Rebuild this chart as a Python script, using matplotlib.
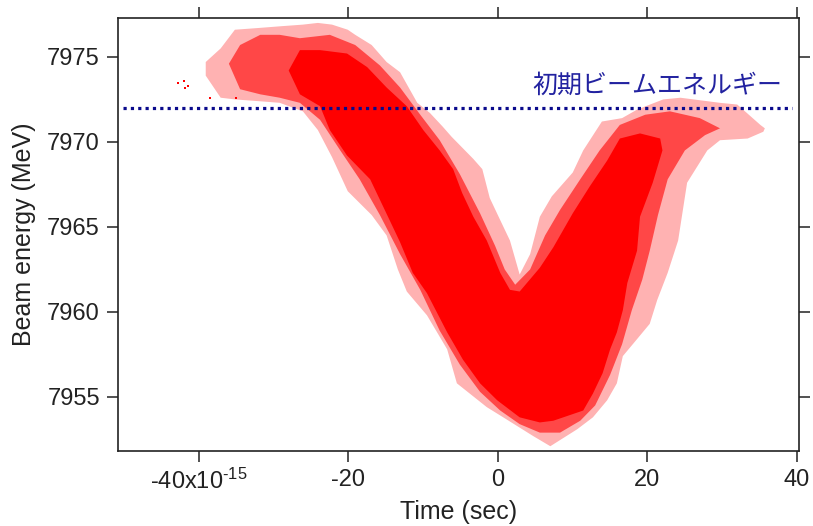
import matplotlib
matplotlib.use("Agg")
import matplotlib.pyplot as plt

plt.rcParams['font.family'] = ['Liberation Sans', 'Noto Sans CJK JP', 'DejaVu Sans']
plt.rcParams['mathtext.fontset'] = 'custom'
plt.rcParams['mathtext.rm'] = 'Liberation Sans'
plt.rcParams['mathtext.it'] = 'Liberation Sans'
plt.rcParams['mathtext.default'] = 'regular'

# ---- data (time in units of 1e-15 s, energy in MeV) ----
# outer (sparse) envelope of the point cloud: upper edge left->right, lower edge right->left
outer_upper_t = [-39.1, -37.1, -35.2, -32.1, -29.2, -26.1, -24.1, -22.2, -20.1, -19.1, -16.9, -14.9,
                 -13.1, -10.8, -9.1, -7.4, -6.2, -3.3, -2.1, -1.1, 0.3, 1.6, 2.9, 4.3, 5.6, 7.2,
                 10.0, 11.4, 13.9, 16.6, 18.6, 22.1, 24.4, 29.7, 32.0, 33.3, 35.1, 35.7]
outer_upper_e = [7974.7, 7975.5, 7976.6, 7976.7, 7976.8, 7976.9, 7977.0, 7976.9, 7976.6, 7976.3, 7975.7, 7974.7,
                 7974.1, 7972.3, 7971.7, 7970.9, 7970.3, 7969.0, 7968.4, 7966.7, 7965.4, 7964.2, 7962.2, 7963.4, 7965.6, 7966.8,
                 7968.2, 7969.5, 7971.2, 7971.4, 7971.9, 7972.5, 7972.6, 7972.3, 7972.2, 7971.7, 7971.0, 7970.8]
outer_lower_t = [35.5, 33.4, 29.7, 28.0, 25.3, 24.1, 22.7, 21.3, 20.3, 18.6, 16.7, 15.9, 14.6, 12.7,
                 10.6, 7.0, 4.7, 0.7, -1.5, -5.5, -6.8, -9.5, -12.2, -13.4, -14.9, -16.9, -20.1,
                 -22.2, -24.1, -26.1, -29.2, -32.1, -35.2, -37.1, -39.1]
outer_lower_e = [7970.6, 7970.2, 7970.1, 7969.5, 7967.6, 7964.2, 7962.3, 7960.7, 7959.3, 7958.4, 7957.4, 7955.8, 7954.8, 7953.8,
                 7953.1, 7952.1, 7952.7, 7953.8, 7954.4, 7955.8, 7957.8, 7959.8, 7961.2, 7962.5, 7964.5, 7965.7, 7967.1,
                 7969.1, 7970.7, 7971.8, 7972.3, 7972.4, 7972.5, 7972.6, 7973.9]

# medium-density envelope
mid_upper_t = [-36.0, -34.5, -31.8, -29.2, -26.5, -22.5, -19.1, -15.8, -13.1, -10.4, -7.8, -5.1, -2.4, -0.4,
               0.9, 2.3, 4.3, 6.3, 8.3, 11.0, 13.6, 16.3, 19.7, 23.0, 27.0, 29.7]
mid_upper_e = [7974.6, 7975.7, 7976.3, 7976.3, 7976.1, 7976.3, 7975.7, 7974.5, 7973.2, 7971.6, 7970.1, 7968.1, 7965.8, 7963.9,
               7962.5, 7961.6, 7962.5, 7964.5, 7966.0, 7967.8, 7969.5, 7971.0, 7971.6, 7971.8, 7971.4, 7970.8]
mid_lower_t = [27.7, 25.0, 22.7, 21.4, 20.3, 19.3, 17.9, 16.6, 15.0, 13.0, 11.0, 8.3, 5.6, 2.9, 0.3,
               -2.4, -5.1, -7.8, -10.4, -13.1, -15.8, -18.5, -21.1, -23.8, -26.5, -29.2, -31.8, -34.5]
mid_lower_e = [7970.4, 7969.5, 7967.8, 7965.7, 7963.6, 7961.9, 7960.1, 7958.1, 7956.3, 7954.5, 7953.6, 7952.9, 7952.9, 7953.4, 7954.2,
               7955.3, 7956.9, 7958.9, 7961.3, 7963.4, 7965.7, 7967.8, 7969.5, 7971.3, 7972.3, 7972.6, 7972.8, 7973.1]

# dense core envelope
core_upper_t = [-28.0, -26.5, -23.8, -20.2, -17.5, -14.9, -12.2, -10.0, -7.8, -6.0, -4.8, -3.3, -1.5, 0.3, 1.6,
                2.9, 5.6, 7.4, 10.0, 12.3, 14.6, 16.3, 19.0, 21.7]
core_upper_e = [7974.2, 7975.4, 7975.4, 7975.2, 7974.4, 7973.2, 7972.1, 7970.7, 7969.5, 7968.4, 7967.0, 7965.6, 7964.2, 7962.3, 7961.3,
                7961.2, 7962.6, 7963.8, 7965.8, 7967.4, 7968.9, 7970.2, 7970.5, 7970.2]
core_lower_t = [22.0, 20.7, 19.0, 18.6, 17.3, 16.7, 15.9, 15.0, 14.0, 12.7, 11.4, 7.4, 5.6, 2.9, -0.1,
                -2.4, -4.7, -6.8, -9.5, -11.4, -13.1, -14.5, -15.8, -17.1, -20.2, -22.5, -23.8, -26.5]
core_lower_e = [7969.5, 7967.6, 7965.6, 7963.6, 7961.7, 7960.1, 7958.8, 7957.8, 7956.4, 7955.2, 7954.2, 7953.6, 7953.5, 7953.8, 7954.8,
                7955.8, 7957.2, 7958.8, 7961.1, 7962.3, 7964.1, 7965.4, 7966.6, 7967.8, 7969.2, 7970.7, 7972.1, 7972.8]

# isolated points at the far left
stray_t = [-42.8, -42.0, -41.9, -41.5, -38.5, -35.0]
stray_e = [7973.47, 7973.59, 7973.18, 7973.29, 7972.6, 7972.6]

initial_energy = 7972.0
line_span = [-50.2, 39.3]
label_text = "初期ビームエネルギー"
label_pos = (38.0, 7973.3)

xticks = [-40, -20, 0, 20, 40]
xticklabels = [r"-40x10$^{\text{-15}}$", "-20", "0", "20", "40"]
yticks = [7955, 7960, 7965, 7970, 7975]
xlim = (-50.84, 40.27)
ylim = (7951.82, 7977.29)

# ---- plot ----
fig = plt.figure(figsize=(8.13, 5.26), dpi=100)
ax = fig.add_axes([0.1451, 0.1426, 0.8377, 0.8232])

red = '#ff0000'
ax.fill(outer_upper_t + outer_lower_t, outer_upper_e + outer_lower_e, color=red, alpha=0.3, lw=0)
ax.fill(mid_upper_t + mid_lower_t, mid_upper_e + mid_lower_e, color=red, alpha=0.6, lw=0)
ax.fill(core_upper_t + core_lower_t, core_upper_e + core_lower_e, color=red, alpha=1.0, lw=0)
ax.scatter(stray_t, stray_e, s=4, marker='s', color=red, lw=0)

ax.hlines(initial_energy, line_span[0], line_span[1], colors='#0a0a8c', lw=2.3,
          linestyles=(0, (1, 1.3)))
ax.text(label_pos[0], label_pos[1], label_text, color='#2222a0', fontsize=18,
        family=['Noto Sans CJK JP', 'DejaVu Sans'], ha='right', va='center')

ax.set_xlim(*xlim)
ax.set_ylim(*ylim)
ax.set_xticks(xticks)
ax.set_xticklabels(xticklabels)
ax.set_yticks(yticks)
ax.tick_params(direction='out', length=8, width=1.1, labelsize=17, colors='#222222',
               top=True, right=True, labeltop=False, labelright=False, pad=5)
for s in ax.spines.values():
    s.set_linewidth(1.2)
    s.set_color('#222222')

ax.set_xlabel("Time (sec)", fontsize=18, color='#222222', labelpad=4)
ax.set_ylabel("Beam energy (MeV)", fontsize=18, color='#222222', labelpad=8)

fig.savefig("out.png", dpi=100)
